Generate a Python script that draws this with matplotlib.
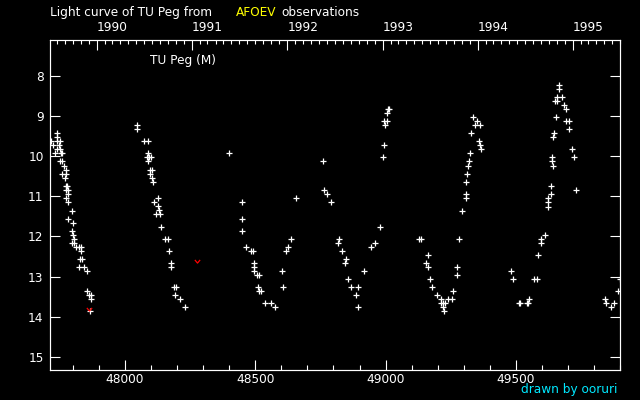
import datetime
import numpy as np
import matplotlib
matplotlib.use("Agg")
import matplotlib.pyplot as plt
from matplotlib.path import Path
from matplotlib.ticker import NullLocator

########################################################
# Data (JD - 2400000, visual magnitude)
########################################################

jd = [
    # 1989
    47739, 47739, 47718, 47739, 47749, 47724, 47747, 47741, 47752, 47731,
    47753, 47758, 47749, 47757, 47767, 47772, 47757, 47772, 47770, 47772,
    47777, 47775, 47782, 47780, 47775, 47782, 47795, 47780, 47800, 47798,
    47802, 47804, 47798, 47804, 47811, 47824, 47831, 47831, 47827, 47835,
    47824, 47843, 47854, 47856, 47862, 47870, 47870, 47866,
    # 1990
    48046, 48046, 48074, 48090, 48090, 48085, 48092, 48100, 48090, 48097,
    48105, 48095, 48103, 48108, 48128, 48110, 48128, 48131, 48119, 48136,
    48137, 48154, 48165, 48169, 48177, 48177, 48188, 48196, 48192, 48211,
    48231,
    # 1991
    48400, 48450, 48450, 48450, 48466, 48484, 48492, 48496, 48496, 48496,
    48505, 48514, 48511, 48515, 48522, 48538, 48561, 48576, 48603, 48607,
    48618, 48627, 48638, 48657,
    # 1992
    48761, 48764, 48776, 48791, 48822, 48818, 48834, 48849, 48845, 48857,
    48868, 48895, 48887, 48895, 48918, 48945, 48958, 48980, 48991, 48995,
    48999, 48994, 49006, 49006, 49008, 49014,
    # 1993
    49128, 49136, 49164, 49156, 49164, 49171, 49179, 49198, 49214, 49241,
    49256, 49214, 49221, 49229, 49221, 49225, 49260, 49275, 49275, 49283,
    49294, 49310, 49310, 49310, 49314, 49317, 49321, 49325, 49329, 49337,
    49344, 49352, 49363, 49360, 49363, 49367,
    # 1994
    49483, 49490, 49513, 49517, 49544, 49548, 49552, 49571, 49579, 49586,
    49598, 49598, 49613, 49625, 49625, 49625, 49636, 49636, 49644, 49640,
    49640, 49644, 49648, 49655, 49651, 49659, 49659, 49675, 49664, 49667,
    49686, 49694, 49694, 49705, 49705, 49717, 49721, 49732,
    # 1995
    49840, 49847, 49863, 49878, 49893, 49901,
]

mag = [
    9.43, 9.53, 9.63, 9.63, 9.63, 9.73, 9.73, 9.83, 9.83, 9.93,
    9.93, 9.93, 10.13, 10.13, 10.23, 10.33, 10.43, 10.43, 10.53, 10.73,
    10.73, 10.83, 10.83, 10.93, 11.03, 11.13, 11.36, 11.56, 11.66, 11.86,
    11.96, 12.06, 12.16, 12.16, 12.26, 12.26, 12.26, 12.36, 12.56, 12.56,
    12.76, 12.76, 12.86, 13.36, 13.46, 13.46, 13.56, 13.86,

    9.23, 9.33, 9.63, 9.63, 9.93, 10.03, 10.03, 10.03, 10.13, 10.33,
    10.33, 10.43, 10.53, 10.63, 11.03, 11.13, 11.25, 11.35, 11.45, 11.45,
    11.76, 12.06, 12.06, 12.36, 12.66, 12.76, 13.26, 13.26, 13.46, 13.56,
    13.76,

    9.93, 11.13, 11.56, 11.86, 12.26, 12.36, 12.36, 12.66, 12.76, 12.86,
    12.96, 12.96, 13.26, 13.36, 13.36, 13.66, 13.66, 13.76, 12.86, 13.26,
    12.36, 12.26, 12.06, 11.03,

    10.13, 10.83, 10.93, 11.13, 12.06, 12.16, 12.36, 12.56, 12.66, 13.06,
    13.26, 13.26, 13.46, 13.76, 12.86, 12.26, 12.16, 11.76, 10.03, 9.73,
    9.23, 9.13, 9.13, 8.93, 8.83, 8.83,

    12.06, 12.06, 12.46, 12.66, 12.76, 13.06, 13.26, 13.46, 13.56, 13.56,
    13.56, 13.66, 13.66, 13.66, 13.76, 13.86, 13.36, 12.96, 12.76, 12.06,
    11.36, 11.03, 10.93, 10.63, 10.43, 10.23, 10.13, 9.93, 9.43, 9.03,
    9.23, 9.13, 9.23, 9.63, 9.73, 9.83,

    12.86, 13.06, 13.66, 13.66, 13.66, 13.66, 13.56, 13.06, 13.06, 12.46,
    12.16, 12.06, 11.96, 11.26, 11.13, 11.03, 10.93, 10.73, 10.23, 10.13,
    10.03, 9.53, 9.43, 9.03, 8.63, 8.63, 8.53, 8.53, 8.33, 8.23,
    8.73, 8.83, 9.13, 9.13, 9.33, 9.83, 10.03, 10.83,

    13.56, 13.66, 13.76, 13.66, 13.36, 13.06,
]

# fainter-than estimates
limit_jd = [47862, 48277]
limit_mag = [13.81, 12.61]

years = [1990, 1991, 1992, 1993, 1994, 1995]
jd_ticks = [48000, 48500, 49000, 49500]
mag_ticks = [8, 9, 10, 11, 12, 13, 14, 15]

########################################################
# Helpers
########################################################

def date_to_jd(year, month):
    # JD - 2400000 of the first day of the month (0h UT)
    return datetime.date(year, month, 1).toordinal() - 678575.5

########################################################
# Plot
########################################################

x_min, x_max = 47712, 49900
fs = 8.7

fig = plt.figure(figsize=(6.4, 4.0), dpi=100, facecolor='black')
ax = fig.add_axes([0.078, 0.075, 0.891, 0.825], facecolor='black')

ax.plot(jd, mag, linestyle='none', marker='+', color='white',
        markersize=3.7, markeredgewidth=0.9)

v_mark = Path([(-1.0, 0.6), (0.0, -0.6), (1.0, 0.6)])
ax.plot(limit_jd, limit_mag, linestyle='none', marker=v_mark,
        markerfacecolor='none', markeredgecolor='red',
        markersize=3.8, markeredgewidth=0.9)

ax.set_xlim(x_min, x_max)
ax.set_ylim(15.33, 7.1)

ax.set_xticks(jd_ticks)
ax.set_xticks(np.arange(47800, x_max + 1, 100), minor=True)
ax.tick_params(axis='x', which='major', direction='in', length=7,
               width=0.8, color='white', labelcolor='white',
               labelsize=fs, pad=2.5, top=False)
ax.tick_params(axis='x', which='minor', direction='in', length=3.5,
               width=0.8, color='white', top=False)

ax.set_yticks(mag_ticks)
ax.yaxis.set_minor_locator(NullLocator())
ax.tick_params(axis='y', direction='in', length=7.5, width=0.8,
               color='white', labelcolor='white', labelsize=fs,
               pad=4.5, right=True)

# top axis in calendar years
top = ax.twiny()
top.set_xlim(x_min, x_max)
top.set_xticks([date_to_jd(y, 1) for y in years])
top.set_xticklabels([str(y) for y in years], ha='left')
months = [date_to_jd(y, m) for y in range(1989, 1996) for m in range(1, 13)]
months = [m for m in months if x_min <= m <= x_max]
top.set_xticks(months, minor=True)
top.tick_params(axis='x', which='major', direction='in', length=7.5,
                width=0.8, color='white', labelcolor='white',
                labelsize=fs, pad=4)
top.tick_params(axis='x', which='minor', direction='in', length=3,
                width=0.8, color='white')

for a in (ax, top):
    for spine in a.spines.values():
        spine.set_color('white')
        spine.set_linewidth(0.8)

fig.text(0.078, 0.969, "Light curve of TU Peg from", color='white',
         fontsize=fs, va='center')
fig.text(0.369, 0.969, "AFOEV", color='#ffff00', fontsize=fs, va='center')
fig.text(0.440, 0.969, "observations", color='white', fontsize=fs,
         va='center')
fig.text(0.234, 0.848, "TU Peg (M)", color='white', fontsize=fs,
         va='center')
fig.text(0.964, 0.025, "drawn by ooruri", color='#00e8ff', fontsize=fs,
         va='center', ha='right')

fig.savefig('out.png', dpi=100, facecolor='black')
